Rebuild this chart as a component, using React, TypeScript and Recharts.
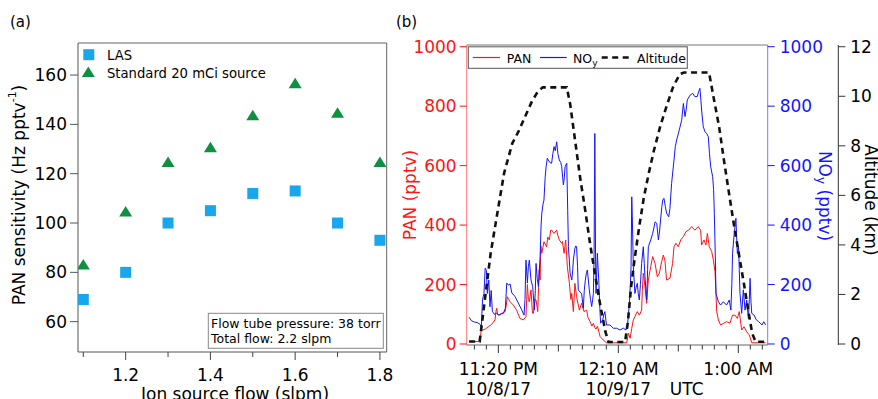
import React from 'react'
import { ScatterChart, Scatter, LineChart, Line, XAxis, YAxis, ReferenceLine } from 'recharts'

const FONT = '"DejaVu Sans", Verdana, sans-serif'
const RED = '#ff1414'
const BLUE = '#1414ff'

// (a) PAN sensitivity vs ion source flow
const ionFlow = [1.1, 1.2, 1.3, 1.4, 1.5, 1.6, 1.7, 1.8]
const lasSensitivity = [69, 80, 100, 105, 112, 113, 100, 93]
const standardSensitivity = [83, 104.5, 124.5, 130.5, 143.5, 156.5, 144.5, 124.5]
const flowTicks = [1.1, 1.2, 1.3, 1.4, 1.5, 1.6, 1.7, 1.8]
const sensitivityTicks = [60, 80, 100, 120, 140, 160]

// (b) flight time series, time = minutes after 23:00 UTC on 10/8/17
const panSeries: [number, number][] = [
  [7.8, 8], [12.4, 8], [12.8, 45], [14.5, 50], [15.8, 58], [17.2, 66], [18.6, 81], [19.0, 110], [19.3, 120],
  [19.7, 100], [20.0, 97], [21.4, 103], [22.8, 109], [23.3, 130], [23.75, 159], [24.3, 150], [24.9, 142],
  [26.25, 131], [27.6, 114], [29.0, 86], [30.4, 81], [31.5, 92], [31.8, 150], [32.1, 200], [32.5, 150],
  [32.9, 142], [33.6, 182], [34.2, 104], [34.6, 103], [35.2, 150], [35.7, 148], [36.4, 109], [37.0, 250],
  [37.4, 215], [37.7, 330], [38.1, 305], [39.0, 344], [40.1, 327], [40.6, 360], [41.25, 350], [41.8, 383],
  [42.2, 383], [43.2, 372], [44.3, 383], [44.8, 365], [45.4, 350], [46.4, 339], [46.7, 345], [47.4, 305],
  [48.05, 350], [48.75, 260], [49.6, 204], [50.2, 150], [50.6, 170], [51.25, 109], [51.9, 204], [52.6, 159],
  [53.75, 114], [54.7, 137], [55.7, 109], [56.8, 114], [57.3, 90], [57.9, 81], [58.5, 70], [59.0, 60],
  [59.6, 70], [60.2, 55], [60.7, 50], [61.3, 60], [62.0, 38], [62.4, 25], [63.75, 13], [65.1, 4], [73.5, 4],
  [74.2, 36], [74.9, 19], [75.6, 53], [76.25, 81], [76.9, 92], [77.9, 109], [78.75, 97], [79.7, 114],
  [80.0, 180], [80.4, 238], [81.1, 193], [81.8, 137], [82.5, 215], [83.5, 260], [84.3, 294], [85.3, 271],
  [86.25, 226], [87.1, 238], [88.05, 277], [88.75, 299], [89.4, 282], [90.1, 215], [91.5, 221], [92.6, 271],
  [93.2, 327], [94.0, 339], [95.0, 327], [96.0, 350], [97.1, 361], [98.2, 378], [99.3, 383], [100.6, 395],
  [101.9, 383], [103.3, 395], [104.3, 383], [104.7, 333], [105.7, 350], [106.5, 333], [107.1, 372],
  [107.9, 327], [108.9, 311], [109.6, 282], [110.3, 243], [111.0, 109], [111.7, 81], [112.6, 64], [114.0, 70],
  [115.1, 75], [116.5, 70], [117.6, 97], [118.6, 97], [119.6, 86], [120.4, 109], [121.4, 47], [122.4, 58],
  [123.5, 41], [124.6, 30], [125.6, 4], [131.4, 4],
]

const noySeries: [number, number][] = [
  [7.8, 90], [8.8, 78], [10, 74], [11.2, 72], [12.4, 66], [12.9, 58], [13.4, 150], [14.0, 170], [14.5, 255],
  [15.0, 248], [15.4, 170], [16.0, 215], [16.5, 125], [17.0, 180], [17.5, 110], [18.3, 100], [19.3, 103],
  [20.3, 97], [21.2, 101], [22.1, 103], [22.9, 120], [23.5, 205], [24.2, 198], [24.9, 202], [25.6, 172],
  [26.9, 160], [28.3, 138], [29.7, 115], [30.7, 97], [31.1, 150], [31.5, 282], [32.1, 205], [32.5, 260],
  [32.9, 282], [33.6, 215], [34.3, 193], [35.0, 114], [35.4, 180], [35.7, 271], [36.2, 220], [36.7, 193],
  [37.4, 294], [37.8, 400], [38.1, 440], [38.6, 470], [39.0, 484], [39.5, 560], [39.9, 596], [40.4, 625],
  [40.8, 619], [41.5, 610], [42.2, 608], [42.7, 640], [43.2, 664], [43.7, 650], [44.3, 680], [44.8, 640],
  [45.4, 619], [46.0, 610], [46.4, 596], [47.1, 535], [47.5, 560], [47.8, 596], [48.5, 608], [48.9, 450],
  [49.2, 327], [49.9, 238], [50.6, 215], [51.0, 250], [51.25, 282], [51.9, 322], [52.3, 330], [52.6, 327],
  [53.0, 260], [53.3, 182], [54.0, 175], [54.7, 170], [55.4, 120], [55.8, 180], [56.25, 215], [56.7, 240],
  [57.1, 249], [57.9, 182], [58.4, 150], [58.9, 126], [59.3, 150], [59.6, 170], [59.9, 300], [60.2, 708],
  [60.5, 300], [60.7, 170], [61.25, 305], [61.6, 250], [61.9, 204], [62.3, 120], [62.6, 70], [63.5, 81],
  [64.0, 100], [64.4, 109], [64.8, 80], [65.1, 64], [66.5, 64], [67.9, 53], [69.3, 53], [70.7, 47],
  [72.1, 53], [73.2, 47], [73.9, 70], [74.6, 137], [75.0, 200], [75.3, 260], [75.6, 495], [75.9, 400],
  [76.25, 260], [76.9, 170], [77.4, 190], [77.9, 204], [78.3, 170], [78.75, 148], [79.2, 200], [79.7, 271],
  [80.4, 327], [80.8, 270], [81.1, 226], [81.8, 148], [82.2, 250], [82.5, 327], [83.5, 350], [84.3, 372],
  [84.8, 390], [85.3, 411], [86.0, 406], [86.7, 350], [87.2, 380], [87.6, 417], [88.1, 460], [88.5, 484],
  [89.0, 490], [89.6, 462], [90.1, 440], [91.0, 428], [91.5, 456], [92.2, 540], [93.2, 619], [93.75, 664],
  [94.3, 686], [95.4, 720], [96.4, 753], [97.1, 809], [97.8, 765], [98.3, 790], [98.75, 821], [99.9, 837],
  [101.0, 843], [101.9, 832], [102.9, 832], [103.5, 850], [104.0, 860], [104.4, 820], [104.7, 787],
  [105.4, 731], [106.1, 714], [106.8, 708], [107.5, 697], [108.0, 640], [108.5, 596], [109.3, 563],
  [109.7, 520], [110.0, 440], [110.4, 300], [110.7, 170], [111.7, 142], [112.6, 131], [113.75, 142],
  [115.1, 131], [116.25, 148], [116.9, 114], [117.3, 200], [117.6, 305], [118.3, 372], [119.0, 423],
  [119.3, 360], [119.6, 305], [120.1, 327], [120.4, 250], [120.7, 170], [121.4, 103], [122.1, 182],
  [122.8, 114], [123.5, 148], [124.2, 86], [124.6, 150], [124.9, 221], [125.3, 140], [125.6, 103],
  [126.6, 97], [127.5, 81], [128.5, 75], [129.9, 64], [130.6, 75], [131.4, 64],
]

const altitudeSeries: [number, number][] = [
  [7.8, 0.1], [12.2, 0.1], [14.0, 1.5], [16.8, 3.67], [19.6, 5.3], [22.4, 6.9], [25.8, 8.1], [28.5, 8.6],
  [31.0, 9.15], [34.0, 9.8], [36.5, 10.2], [38.5, 10.36], [48.5, 10.36], [49.9, 9.7], [52.0, 8.2],
  [54.1, 6.7], [56.2, 5.4], [58.3, 4.0], [60.4, 2.75], [62.5, 1.55], [64.6, 0.5], [65.9, 0.08], [72.8, 0.08],
  [74.0, 0.9], [75.3, 2.3], [76.6, 3.3], [78.5, 4.6], [80.6, 5.9], [82.7, 6.9], [84.8, 7.8], [87.5, 8.8],
  [90.1, 9.6], [92.9, 10.4], [95.7, 10.9], [97.4, 10.96], [107.8, 10.96], [109.9, 9.85], [112.0, 8.77],
  [114.0, 7.43], [116.1, 6.1], [118.2, 4.8], [120.3, 3.6], [122.4, 2.4], [124.5, 1.15], [125.8, 0.43],
  [127.2, 0.09], [131.2, 0.09],
]

const timeTicks = [10, 15, 20, 25, 30, 35, 40, 45, 50, 55, 60, 65, 70, 75, 80, 85, 90, 95, 100, 105, 110, 115, 120, 125, 130]
const timeLabels: Record<number, string[]> = {
  20: ['11:20 PM', '10/8/17'],
  70: ['12:10 AM', '10/9/17'],
  120: ['1:00 AM'],
}
const mixingTicks = [0, 200, 400, 600, 800, 1000]
const altitudeTicks = [0, 2, 4, 6, 8, 10, 12]

const toPoints = (s: [number, number][]) => s.map(([t, v]) => ({ t, v }))
const lasData = ionFlow.map((flow, i) => ({ flow, sens: lasSensitivity[i] }))
const standardData = ionFlow.map((flow, i) => ({ flow, sens: standardSensitivity[i] }))

function FlowTick({ x, y, payload }: any) {
  const major = Math.round(payload.value * 10) % 2 === 0
  return (
    <g>
      <line x1={x} x2={x} y1={y} y2={y + (major ? 8 : 5)} stroke="#444" />
      {major && (
        <text x={x} y={y + 28.5} textAnchor="middle" fontSize={17} fontFamily={FONT} fill="#000">
          {payload.value.toFixed(1)}
        </text>
      )}
    </g>
  )
}

function TimeTick({ x, y, payload }: any) {
  const v = payload.value
  const label = timeLabels[v]
  const len = label ? 8 : v % 50 === 45 ? 6.5 : 4.5
  return (
    <g>
      <line x1={x} x2={x} y1={y} y2={y + len} stroke="#333" />
      {label &&
        label.map((s, i) => (
          <text key={i} x={x} y={y + 29.5 + i * 20} textAnchor="middle" fontSize={17} fontFamily={FONT} fill="#000">
            {s}
          </text>
        ))}
    </g>
  )
}

const Square = ({ cx, cy }: any) => <rect x={cx - 5.5} y={cy - 5.5} width={11} height={11} fill="#18a6ec" />
const Triangle = ({ cx, cy }: any) => (
  <polygon points={`${cx},${cy - 6} ${cx - 6.5},${cy + 4.5} ${cx + 6.5},${cy + 4.5}`} fill="#0f8f42" />
)

const tickFont = { fontSize: 17, fontFamily: FONT }

export default function App() {
  return (
    <div style={{ position: 'relative', width: 878, height: 399, overflow: 'hidden', background: '#fff' }}>
      <style>{'body{margin:0}'}</style>

      <div style={{ position: 'absolute', left: 0, top: 0 }}>
        <ScatterChart width={400} height={399} margin={{ top: 43, right: 13.3, bottom: 0, left: 0 }}>
          <XAxis
            type="number"
            dataKey="flow"
            domain={[1.0875, 1.816]}
            ticks={flowTicks}
            interval={0}
            allowDataOverflow
            height={47}
            stroke="#555"
            tickLine={false}
            tickSize={0}
            tickMargin={0}
            tick={<FlowTick />}
          />
          <YAxis
            type="number"
            dataKey="sens"
            domain={[47.7, 173]}
            ticks={sensitivityTicks}
            interval={0}
            allowDataOverflow
            width={78}
            stroke="#555"
            tickSize={8}
            tickMargin={3}
            tick={{ ...tickFont, fill: '#000' }}
          />
          <ReferenceLine y={173} stroke="#666" ifOverflow="visible" />
          <ReferenceLine x={1.816} stroke="#666" ifOverflow="visible" />
          <Scatter data={lasData} shape={<Square />} isAnimationActive={false} />
          <Scatter data={standardData} shape={<Triangle />} isAnimationActive={false} />
        </ScatterChart>
      </div>

      <div style={{ position: 'absolute', left: 400, top: 0 }}>
        <LineChart width={478} height={399} margin={{ top: 45, right: 0, bottom: 0, left: 0 }}>
          <XAxis
            type="number"
            dataKey="t"
            domain={[6.8, 132.25]}
            ticks={timeTicks}
            interval={0}
            allowDataOverflow
            height={54}
            stroke="#666"
            tickLine={false}
            tickSize={0}
            tickMargin={0}
            tick={<TimeTick />}
          />
          <YAxis
            yAxisId="pan"
            type="number"
            domain={[-3.4, 1005.7]}
            ticks={mixingTicks}
            interval={0}
            allowDataOverflow
            width={66.7}
            stroke="#ff7878"
            tickLine={{ stroke: RED }}
            tickSize={7}
            tickMargin={3}
            tick={{ ...tickFont, fill: RED }}
          />
          <YAxis
            yAxisId="km"
            orientation="right"
            type="number"
            domain={[-0.04, 12.07]}
            ticks={altitudeTicks}
            interval={0}
            allowDataOverflow
            width={39.7}
            stroke="#333"
            tickSize={7}
            tickMargin={5}
            tick={{ ...tickFont, fill: '#000' }}
          />
          <YAxis
            yAxisId="blue"
            orientation="right"
            type="number"
            domain={[-3.4, 1005.7]}
            ticks={mixingTicks}
            interval={0}
            allowDataOverflow
            width={70.6}
            stroke="#7878ff"
            tickLine={{ stroke: BLUE }}
            tickSize={7}
            tickMargin={5}
            tick={{ ...tickFont, fill: BLUE }}
          />
          <ReferenceLine yAxisId="pan" y={1005.7} stroke="#777" ifOverflow="visible" />
          <Line
            yAxisId="pan"
            data={toPoints(panSeries)}
            dataKey="v"
            type="linear"
            stroke={RED}
            strokeWidth={1}
            dot={false}
            isAnimationActive={false}
          />
          <Line
            yAxisId="blue"
            data={toPoints(noySeries)}
            dataKey="v"
            type="linear"
            stroke={BLUE}
            strokeWidth={1}
            dot={false}
            isAnimationActive={false}
          />
          <Line
            yAxisId="km"
            data={toPoints(altitudeSeries)}
            dataKey="v"
            type="linear"
            stroke="#111"
            strokeWidth={2.6}
            strokeDasharray="6 4.5"
            dot={false}
            isAnimationActive={false}
          />
        </LineChart>
      </div>

      <svg
        width={878}
        height={399}
        style={{ position: 'absolute', left: 0, top: 0, pointerEvents: 'none' }}
        fontFamily={FONT}
      >
        <text x={10} y={27} fontSize={15}>(a)</text>
        <text x={396} y={27} fontSize={15}>(b)</text>

        <text transform="translate(18.5,195) rotate(-90)" textAnchor="middle" dominantBaseline="central" fontSize={17}>
          PAN sensitivity (Hz pptv<tspan fontSize={11} dy={-7}>-1</tspan>
          <tspan dy={7}>)</tspan>
        </text>
        <text x={235} y={400} textAnchor="middle" fontSize={17}>Ion source flow (slpm)</text>

        <rect x={83.3} y={49.2} width={11} height={11} fill="#18a6ec" />
        <text x={107} y={59.5} fontSize={13.2}>LAS</text>
        <polygon points="88.3,66.5 81.8,77 94.8,77" fill="#0f8f42" />
        <text x={107} y={77.5} fontSize={13.2}>Standard 20 mCi source</text>

        <rect x={208.3} y={313.3} width={175} height={35} fill="#fff" stroke="#888" />
        <text x={211} y={327.5} fontSize={12.5}>Flow tube pressure: 38 torr</text>
        <text x={211} y={342.5} fontSize={12.5}>Total flow: 2.2 slpm</text>

        <text transform="translate(410,195) rotate(-90)" textAnchor="middle" dominantBaseline="central" fontSize={17} fill={RED}>
          PAN (pptv)
        </text>
        <text transform="translate(825,196) rotate(90)" textAnchor="middle" dominantBaseline="central" fontSize={17} fill={BLUE}>
          NO<tspan fontSize={12} dy={4}>y</tspan>
          <tspan dy={-4}> (pptv)</tspan>
        </text>
        <text transform="translate(871,200) rotate(90)" textAnchor="middle" dominantBaseline="central" fontSize={17}>
          Altitude (km)
        </text>
        <text x={686.7} y={394.5} textAnchor="middle" fontSize={17}>UTC</text>

        <rect x={468.3} y={46.8} width={219} height={21.5} fill="#fff" stroke="#555" />
        <line x1={472.7} x2={500} y1={57.5} y2={57.5} stroke={RED} strokeWidth={1.2} />
        <text x={506.7} y={62.5} fontSize={12.5}>PAN</text>
        <line x1={540} x2={566.7} y1={57.5} y2={57.5} stroke={BLUE} strokeWidth={1.2} />
        <text x={573} y={62.5} fontSize={12.5}>
          NO<tspan fontSize={9} dy={3}>y</tspan>
        </text>
        <line x1={601.7} x2={630} y1={57.5} y2={57.5} stroke="#111" strokeWidth={2.6} strokeDasharray="6 4.5" />
        <text x={637} y={62.5} fontSize={12.5}>Altitude</text>
      </svg>
    </div>
  )
}
